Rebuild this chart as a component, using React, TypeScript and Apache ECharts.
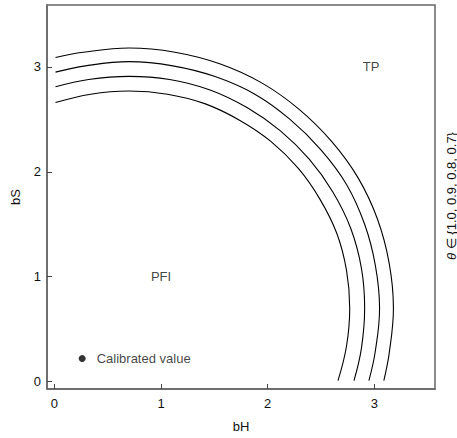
import React, { useEffect, useRef } from "react";
import * as echarts from "echarts";

const tickValues = [0, 1, 2, 3];

// Curves, theta = 1.0, 0.9, 0.8, 0.7 (outer to inner) — [bH, bS]
const curveTheta10: number[][] = [
  [0.01, 3.09], [0.27, 3.14], [0.7, 3.18], [1.13, 3.14], [1.55, 3.03],
  [1.94, 2.85], [2.29, 2.6], [2.6, 2.29], [2.85, 1.94], [3.03, 1.55],
  [3.14, 1.13], [3.18, 0.7], [3.14, 0.27], [3.09, 0.01],
];
const curveTheta09: number[][] = [
  [0.01, 2.95], [0.29, 3.01], [0.7, 3.05], [1.11, 3.01], [1.5, 2.91],
  [1.88, 2.74], [2.21, 2.5], [2.5, 2.21], [2.74, 1.88], [2.91, 1.5],
  [3.01, 1.11], [3.05, 0.7], [3.01, 0.29], [2.95, 0.01],
];
const curveTheta08: number[][] = [
  [0.01, 2.81], [0.32, 2.88], [0.7, 2.91], [1.08, 2.88], [1.46, 2.78],
  [1.81, 2.61], [2.12, 2.39], [2.39, 2.12], [2.61, 1.81], [2.78, 1.46],
  [2.88, 1.08], [2.91, 0.7], [2.88, 0.32], [2.81, 0.01],
];
const curveTheta07: number[][] = [
  [0.01, 2.66], [0.34, 2.74], [0.7, 2.77], [1.06, 2.74], [1.41, 2.65],
  [1.74, 2.49], [2.03, 2.29], [2.29, 2.03], [2.49, 1.74], [2.65, 1.41],
  [2.74, 1.06], [2.77, 0.7], [2.74, 0.34], [2.66, 0.01],
];
const curves = [curveTheta10, curveTheta09, curveTheta08, curveTheta07];

const calibrated: number[][] = [[0.26, 0.22]];
const regionLabels = [
  { name: "TP", value: [2.97, 3.0] },
  { name: "PFI", value: [1.0, 1.0] },
];

const FONT = "Liberation Sans, Arial, Helvetica, sans-serif";
const FS = 13;

export default function App() {
  const ref = useRef<HTMLDivElement>(null);
  useEffect(() => {
    document.body.style.margin = "0";
    const chart = echarts.init(ref.current!, undefined, { renderer: "svg" });
    const axisCommon = {
      type: "value" as const,
      axisLine: { show: true, onZero: false, lineStyle: { color: "#666", width: 1.5 } },
      axisTick: {
        show: true,
        inside: true,
        length: 5,
        lineStyle: { color: "#444", width: 1 },
        customValues: tickValues,
      },
      axisLabel: {
        color: "#111",
        fontSize: FS,
        fontFamily: FONT,
        customValues: tickValues,
      },
      splitLine: { show: false },
      nameLocation: "middle" as const,
      nameTextStyle: { color: "#111", fontSize: FS, fontFamily: FONT },
    };
    chart.setOption({
      animation: false,
      grid: {
        left: 47,
        right: 22,
        top: 5,
        bottom: 48,
        show: true,
        borderColor: "#666",
        borderWidth: 1.5,
      },
      xAxis: {
        ...axisCommon,
        min: -0.07,
        max: 3.57,
        name: "bH",
        nameGap: 31,
        axisLabel: { ...axisCommon.axisLabel, margin: 8 },
      },
      yAxis: {
        ...axisCommon,
        min: -0.07,
        max: 3.59,
        name: "bS",
        nameGap: 25,
        axisLabel: { ...axisCommon.axisLabel, margin: 6 },
      },
      series: [
        ...curves.map((c) => ({
          type: "line",
          data: c,
          smooth: 0.4,
          symbol: "none",
          lineStyle: { color: "#000", width: 1.1 },
          silent: true,
        })),
        {
          type: "scatter",
          data: calibrated,
          symbol: "circle",
          symbolSize: 7,
          itemStyle: { color: "#000" },
          label: {
            show: true,
            position: "right",
            distance: 11,
            formatter: "Calibrated value",
            color: "#111",
            fontSize: FS,
            fontFamily: FONT,
          },
        },
        {
          type: "scatter",
          data: regionLabels,
          symbolSize: 0,
          label: {
            show: true,
            position: "inside",
            formatter: "{b}",
            color: "#111",
            fontSize: FS,
            fontFamily: FONT,
          },
        },
      ],
      graphic: [
        {
          type: "text",
          x: 451,
          y: 196,
          rotation: Math.PI / 2,
          style: {
            text: "{i|θ} ∈ {1.0, 0.9, 0.8, 0.7}",
            rich: { i: { fontStyle: "italic", fontSize: FS, fontFamily: FONT, fill: "#111" } },
            fill: "#111",
            fontSize: FS,
            fontFamily: FONT,
            align: "center",
            verticalAlign: "middle",
          },
        },
      ],
    });
    return () => chart.dispose();
  }, []);
  return <div ref={ref} style={{ width: 457, height: 438 }} />;
}
